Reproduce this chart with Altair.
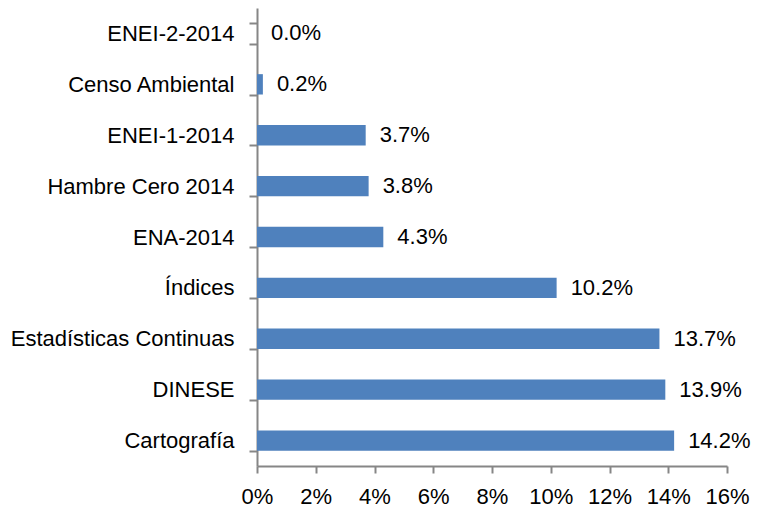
import altair as alt
import pandas as pd

categories = ["ENEI-2-2014", "Censo Ambiental", "ENEI-1-2014", "Hambre Cero 2014",
              "ENA-2014", "Índices", "Estadísticas Continuas", "DINESE", "Cartografía"]
values = [0.0, 0.2, 3.7, 3.8, 4.3, 10.2, 13.7, 13.9, 14.2]
x_ticks = [0, 2, 4, 6, 8, 10, 12, 14, 16]
title_text = "Por metas institucionales"

df = pd.DataFrame({"cat": categories, "val": values})

FONT = "Liberation Sans"
FS = 22
GRAY = "#868686"

y_enc = alt.Y("cat:N", sort=categories, title=None,
              scale=alt.Scale(paddingInner=0.6, paddingOuter=0.3),
              axis=alt.Axis(tickBand="extent", tickSize=8, tickWidth=2, tickColor=GRAY,
                            domainColor=GRAY, domainWidth=2, labelFont=FONT,
                            labelFontSize=FS, labelColor="black", labelPadding=15,
                            labelLimit=400))
x_enc = alt.X("val:Q", title=None,
              scale=alt.Scale(domain=[0, 16], nice=False),
              axis=alt.Axis(values=x_ticks, labelExpr="datum.value + '%'", grid=False,
                            tickSize=7, tickWidth=2, tickColor=GRAY, domainColor=GRAY,
                            domainWidth=2, labelFont=FONT, labelFontSize=FS,
                            labelColor="black", labelPadding=13, labelFlush=False))

base = alt.Chart(df)
bars = base.mark_bar(color="#4F81BD").encode(x=x_enc, y=y_enc)
labels = base.transform_calculate(
    lab="format(datum.val, '.1f') + '%'"
).mark_text(align="left", baseline="middle", dx=14, font=FONT, fontSize=FS,
            color="black").encode(x="val:Q", y=alt.Y("cat:N", sort=categories), text="lab:N")

title = alt.Chart(pd.DataFrame({"t": [title_text]})).mark_text(
    align="center", baseline="alphabetic", font=FONT, fontSize=23, fontWeight="bold",
    color="black").encode(text="t:N", x=alt.value(69), y=alt.value(-4))

chart = alt.layer(bars, labels, title).properties(
    width=470, height=458,
    autosize=alt.AutoSizeParams(type="none"),
    padding={"left": 249, "top": 0, "right": 24, "bottom": 42},
).configure_view(stroke=None).configure_axis(grid=False)

chart.save("out.html", embed_options={"renderer": "svg", "actions": False})
